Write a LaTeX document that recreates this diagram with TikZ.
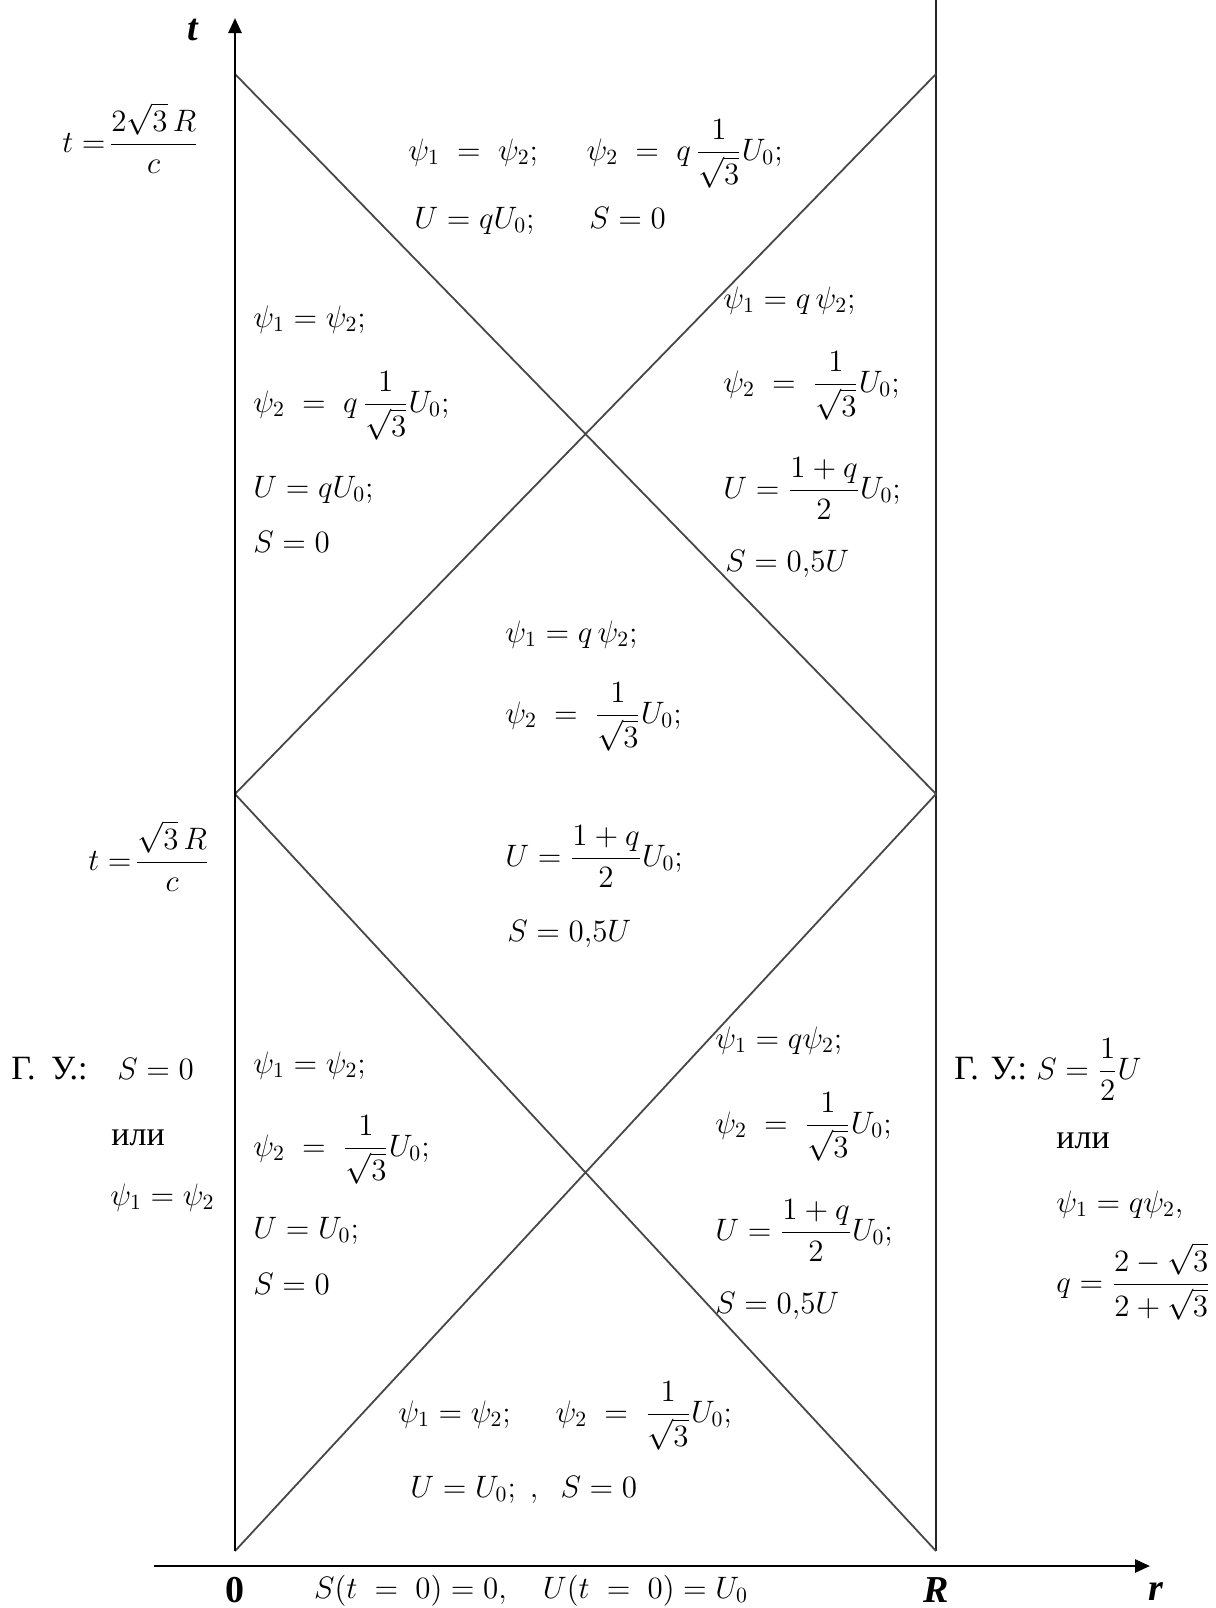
\RequirePackage{fix-cm}
\documentclass[tikz,border=0pt]{standalone}
\usepackage{amsmath}
\usepackage{fontspec}
\setmainfont{Liberation Serif}
\newfontfamily\rusfont{Liberation Serif}
\usetikzlibrary{arrows.meta}
\begin{document}
\begin{tikzpicture}[x=0.5pt,y=-0.5pt,
  thinline/.style={line width=0.9pt, draw=black!72},
  vline/.style={line width=1.1pt, draw=black!85},
  axisline/.style={line width=1.3pt, -{Triangle[length=7.5pt,width=6.5pt]}},
  eq/.style={anchor=base west, inner sep=0pt, font=\fontsize{15.5}{18}\selectfont},
  rus/.style={anchor=base west, inner sep=0pt, font=\rusfont\fontsize{17}{20}\selectfont},
  big/.style={anchor=center, inner sep=0pt, font=\fontsize{19}{22}\selectfont\bfseries}]
\useasboundingbox (0,0) rectangle (1216,1608);
% frame points
\coordinate (O) at (235,1551);
\coordinate (Rb) at (936,1551);
\coordinate (Lm) at (235,794);
\coordinate (Rm) at (936,794);
\coordinate (Lt) at (235,74);
\coordinate (Rt) at (936,74);
\coordinate (Rtop) at (936,0);
\coordinate (Ttip) at (235,18);
\coordinate (Ax0) at (154,1566);
\coordinate (Ax1) at (1150,1566);
% lines
\draw[vline] (Rb) -- (Rtop);
\draw[thinline] (O) -- (Rm);
\draw[thinline] (Lm) -- (Rb);
\draw[thinline] (Lm) -- (Rt);
\draw[thinline] (Lt) -- (Rm);
\draw[axisline] (O) -- (Ttip);
\draw[axisline] (Ax0) -- (Ax1);
% axis labels
\node[big] (tlab) at (193,30) {\itshape t};
\node[big] (zlab) at (235,1590) {0};
\node[big] (Rlab) at (936,1590) {\itshape R};
\node[big] (rlab) at (1156,1592) {\itshape r};
\node[eq, anchor=base] (init) at (531,1598) {$S(t\;=\;0)=0,\quad U(t\;=\;0)=U_0$};
% time labels
\node[eq] (t2) at (62,152) {$t=\!\dfrac{2\sqrt3\,R}{c}$};
\node[eq] (t1) at (88,870) {$t=\!\dfrac{\sqrt3\,R}{c}$};
% top region
\node[eq] (a1) at (408,160) {$\psi_1\;=\;\psi_2;\hspace{1.4em}\psi_2\;=\;q\,\dfrac{1}{\sqrt3}U_0;$};
\node[eq] (a2) at (414,228) {$U=qU_0;\hspace{1.6em}S=0$};
% left upper
\node[eq] (b1) at (253,327) {$\psi_1=\psi_2;$};
\node[eq] (b2) at (253,412) {$\psi_2\;=\;q\,\dfrac{1}{\sqrt3}U_0;$};
\node[eq] (b3) at (253,497) {$U=qU_0;$};
\node[eq] (b4) at (253,552) {$S=0$};
% right upper
\node[eq] (c1) at (723,308) {$\psi_1=q\,\psi_2;$};
\node[eq] (c2) at (723,392) {$\psi_2\;=\;\dfrac{1}{\sqrt3}U_0;$};
\node[eq] (c3) at (723,498) {$U=\dfrac{1+q}{2}U_0;$};
\node[eq] (c4) at (725,571) {$S=0{,}5U$};
% middle
\node[eq] (d1) at (505,642) {$\psi_1=q\,\psi_2;$};
\node[eq] (d2) at (505,723) {$\psi_2\;=\;\dfrac{1}{\sqrt3}U_0;$};
\node[eq] (d3) at (505,866) {$U=\dfrac{1+q}{2}U_0;$};
\node[eq] (d4) at (507,941) {$S=0{,}5U$};
% left lower
\node[eq] (e1) at (253,1073) {$\psi_1=\psi_2;$};
\node[eq] (e2) at (253,1156) {$\psi_2\;=\;\dfrac{1}{\sqrt3}U_0;$};
\node[eq] (e3) at (253,1238) {$U=U_0;$};
\node[eq] (e4) at (253,1294) {$S=0$};
% right lower
\node[eq] (f1) at (715,1048) {$\psi_1=q\psi_2;$};
\node[eq] (f2) at (715,1133) {$\psi_2\;=\;\dfrac{1}{\sqrt3}U_0;$};
\node[eq] (f3) at (715,1240) {$U=\dfrac{1+q}{2}U_0;$};
\node[eq] (f4) at (715,1313) {$S=0{,}5U$};
% bottom region
\node[eq] (g1) at (398,1422) {$\psi_1=\psi_2;\quad\; \psi_2\;=\;\dfrac{1}{\sqrt3}U_0;$};
\node[eq] (g2) at (410,1497) {$U=U_0;\;,\;\; S=0$};
% boundary conditions left
\node[rus] (gl) at (11,1079) {Г.\hspace{0.45em}У.:};
\node[eq] (gl1) at (117,1079) {$S=0$};
\node[rus] (gl2) at (111,1145) {или};
\node[eq] (gl3) at (110,1205) {$\psi_1=\psi_2$};
% boundary conditions right
\node[rus] (gr) at (954,1079) {Г.\hspace{0.35em}У.:};
\node[eq] (gr1) at (1036,1079) {$S=\dfrac{1}{2}U$};
\node[rus] (gr2) at (1056,1148) {или};
\node[eq] (gr3) at (1056,1212) {$\psi_1=q\psi_2,$};
\node[eq] (gr4) at (1056,1292) {$q=\dfrac{2-\sqrt3}{2+\sqrt3}$};
\end{tikzpicture}
\end{document}
